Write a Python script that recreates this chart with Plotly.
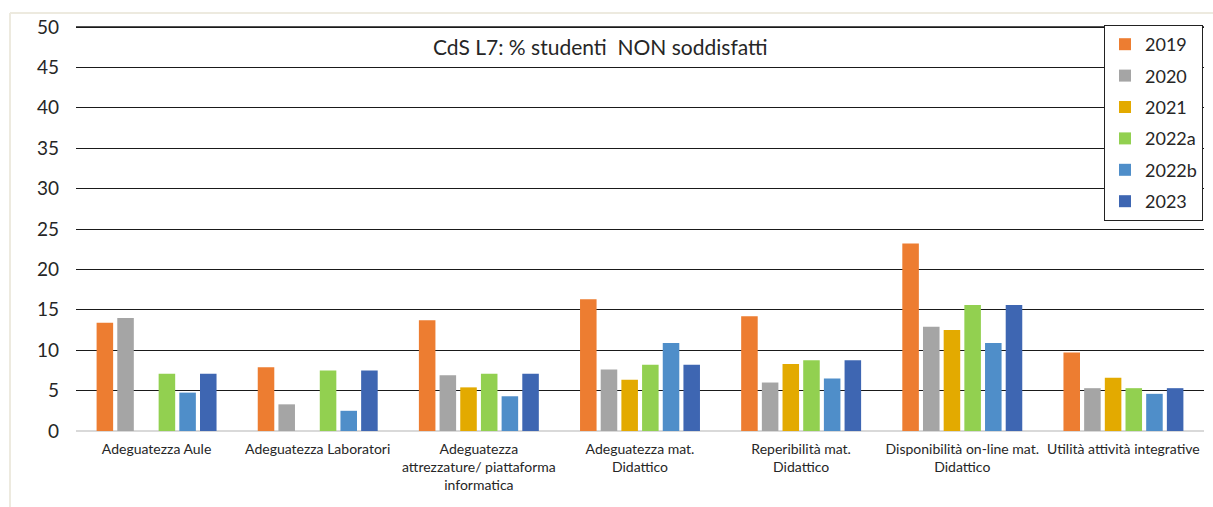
import plotly.graph_objects as go

categories = [
    "Adeguatezza Aule",
    "Adeguatezza Laboratori",
    "Adeguatezza<br>attrezzature/ piattaforma<br>informatica",
    "Adeguatezza mat.<br>Didattico",
    "Reperibilità mat.<br>Didattico",
    "Disponibilità on-line mat.<br>Didattico",
    "Utilità attività integrative",
]

years = ["2019", "2020", "2021", "2022a", "2022b", "2023"]

v2019 = [13.4, 7.9, 13.7, 16.3, 14.2, 23.2, 9.7]
v2020 = [14.0, 3.3, 6.9, 7.6, 6.0, 12.9, 5.3]
v2021 = [None, None, 5.4, 6.35, 8.3, 12.5, 6.6]
v2022a = [7.1, 7.5, 7.1, 8.2, 8.75, 15.6, 5.3]
v2022b = [4.75, 2.5, 4.3, 10.9, 6.5, 10.9, 4.6]
v2023 = [7.1, 7.5, 7.1, 8.2, 8.75, 15.6, 5.3]

series = [v2019, v2020, v2021, v2022a, v2022b, v2023]
colors = ["#ED7D31", "#A5A5A5", "#E3AA00", "#92D050", "#4F8EC9", "#3E66B2"]

tick_vals = list(range(0, 51, 5))

fig = go.Figure()
for name, vals, col in zip(years, series, colors):
    fig.add_trace(go.Bar(
        x=categories, y=vals, name=name, marker_color=col,
        marker_line_width=0, legendgroup=name,
    ))

font_family = "Lato, Open Sans, sans-serif"

# plot area: x 76..1204, y 24..431 (px); 50 sits a few px below the top edge
PH = 407
PW = 1128
Y_TOP = PH / (404 / 50)
GRID = dict(color="#1a1a1a", width=1.3)

fig.update_layout(
    width=1213, height=507,
    margin=dict(l=76, r=9, t=24, b=76),
    paper_bgcolor="white", plot_bgcolor="white",
    barmode="group", bargap=0.23, bargroupgap=0.2,
    font=dict(family=font_family, color="#262626"),
    showlegend=True,
    legend=dict(
        x=(1104 - 76) / PW, y=(431 - 25) / PH, xanchor="left", yanchor="top",
        bgcolor="white", bordercolor="#222222", borderwidth=1,
        font=dict(size=18, color="#262626"),
        tracegroupgap=5, itemwidth=30,
    ),
    xaxis=dict(
        showgrid=False, showline=False, ticks="",
        tickfont=dict(size=14, color="#262626"),
        tickangle=0, ticklabelstandoff=8,
    ),
    yaxis=dict(
        range=[0, Y_TOP], tickvals=tick_vals, showgrid=True,
        gridcolor=GRID["color"], gridwidth=GRID["width"],
        zeroline=True, zerolinecolor="#D9D9D9", zerolinewidth=1.5,
        tickfont=dict(size=19, color="#262626"), ticks="", showline=False,
        ticklabelstandoff=16,
    ),
    annotations=[dict(
        text="CdS L7: % studenti  NON soddisfatti",
        xref="paper", yref="paper", x=(600 - 76) / PW, y=(431 - 47) / PH,
        xanchor="center", yanchor="middle", showarrow=False,
        font=dict(size=21, color="#262626"),
    )],
    shapes=[
        # gridline at the axis maximum (no bar reaches it, so it can sit on top)
        dict(type="line", xref="paper", yref="y", x0=0, x1=1,
             y0=tick_vals[-1], y1=tick_vals[-1], layer="above", line=GRID),
        # light page frame
        dict(type="line", xref="paper", yref="paper",
             x0=(10 - 76) / PW, x1=(1213 - 76) / PW,
             y0=(431 - 13) / PH, y1=(431 - 13) / PH,
             line=dict(color="#EDEADF", width=2)),
        dict(type="line", xref="paper", yref="paper",
             x0=(10 - 76) / PW, x1=(10 - 76) / PW,
             y0=(431 - 13) / PH, y1=(431 - 507) / PH,
             line=dict(color="#EDEADF", width=2)),
    ],
)

fig.write_html("out.html")
